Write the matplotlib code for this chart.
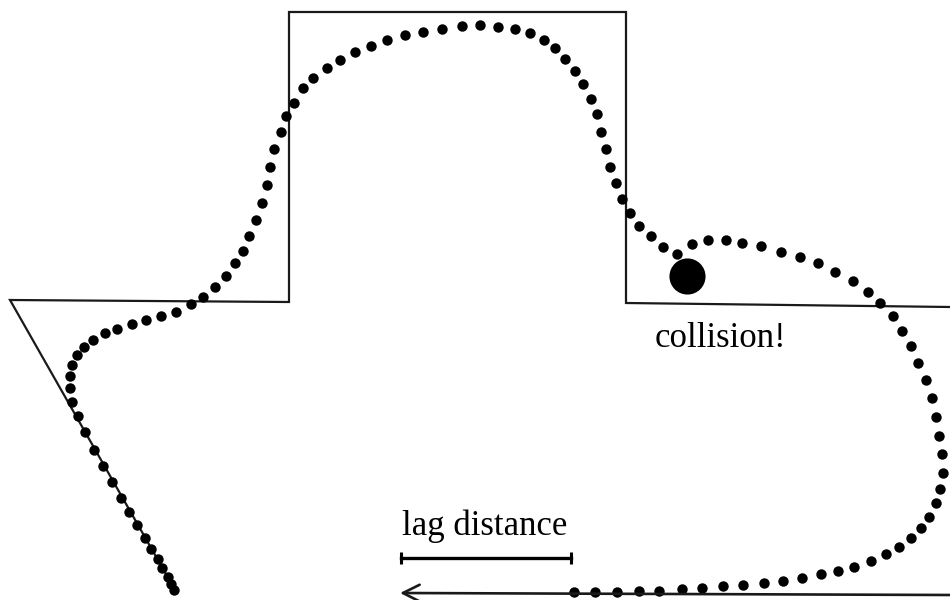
import matplotlib.pyplot as plt

# Outline of the lead path (pixel-like coordinates, y grows downward)
path_x = [175, 10, 289, 289, 626, 626, 950]
path_y = [590, 300, 302, 12, 12, 303, 307]

# Dotted trail that follows the path with a lag
trail_x = [174, 171, 168, 162, 158, 151, 145, 137, 129, 121, 112, 103, 94, 85, 78, 72, 70, 70,
           72, 77, 84, 93, 105, 117, 132, 146, 161, 176, 191, 203, 215, 226, 235, 243, 249, 256,
           262, 267, 270, 274, 281, 286, 294, 303, 313, 327, 340, 355, 371, 387, 405, 423, 442,
           462, 480, 498, 515, 530, 544, 555, 565, 575, 583, 591, 597, 601, 606, 610, 616, 622,
           630, 639, 651, 663, 677,
           692, 708, 726, 742, 761, 781, 800, 818, 835, 853, 868, 880, 893, 902, 911, 918, 926,
           932, 936, 939, 942, 943, 940, 936, 929, 921, 911, 899, 886, 871, 854, 838, 821, 802,
           783, 764, 743, 723, 702, 682, 659, 639, 617, 595, 574]
trail_y = [590, 584, 577, 568, 559, 549, 538, 525, 512, 498, 482, 466, 450, 432, 416, 402, 388, 376,
           365, 355, 347, 340, 333, 329, 324, 320, 316, 312, 304, 297, 287, 276, 263, 251, 236, 220,
           203, 185, 167, 149, 132, 116, 103, 88, 78, 68, 60, 52, 46, 40, 35, 32, 29,
           26, 25, 27, 29, 33, 40, 48, 59, 71, 84, 99, 114, 132, 149, 167, 183, 199,
           213, 226, 236, 247, 254,
           244, 240, 240, 243, 246, 252, 257, 263, 272, 281, 292, 303, 316, 331, 346, 363, 380,
           398, 417, 436, 454, 473, 489, 503, 517, 528, 538, 547, 554, 561, 567, 571, 574, 578,
           581, 583, 585, 586, 588, 589, 591, 591, 592, 592, 592]

collision_xy = (687, 276)
lag_x = [401, 571]
lag_y = [558, 558]
arrow_start = (950, 595)
arrow_end = (400, 593)

fig = plt.figure(figsize=(9.5, 6), dpi=100)
ax = fig.add_axes([0, 0, 1, 1])
ax.set_xlim(0, 950)
ax.set_ylim(600, 0)
ax.axis('off')

line_col = '#1a1a1a'
ax.plot(path_x, path_y, color=line_col, lw=1.6, solid_joinstyle='miter')
ax.plot(trail_x, trail_y, 'o', color='black', ms=7.5, mew=0)
ax.plot(*collision_xy, 'o', color='black', ms=26, mew=0)

# direction arrow along the bottom
ax.annotate('', xy=arrow_end, xytext=arrow_start,
            arrowprops=dict(arrowstyle='->, head_length=0.6, head_width=0.3',
                            lw=1.9, color=line_col, mutation_scale=20,
                            shrinkA=0, shrinkB=0))

# lag distance scale bar
ax.plot(lag_x, lag_y, color='black', lw=2.4)
ax.plot(lag_x, lag_y, '|', color='black', ms=9, mew=2.2)

ax.text(485, 535, 'lag distance', ha='center', va='baseline',
        family='Liberation Serif', fontsize=25)
ax.text(720, 347, 'collision!', ha='center', va='baseline',
        family='Liberation Serif', fontsize=25)

fig.savefig('out.png', dpi=100)
